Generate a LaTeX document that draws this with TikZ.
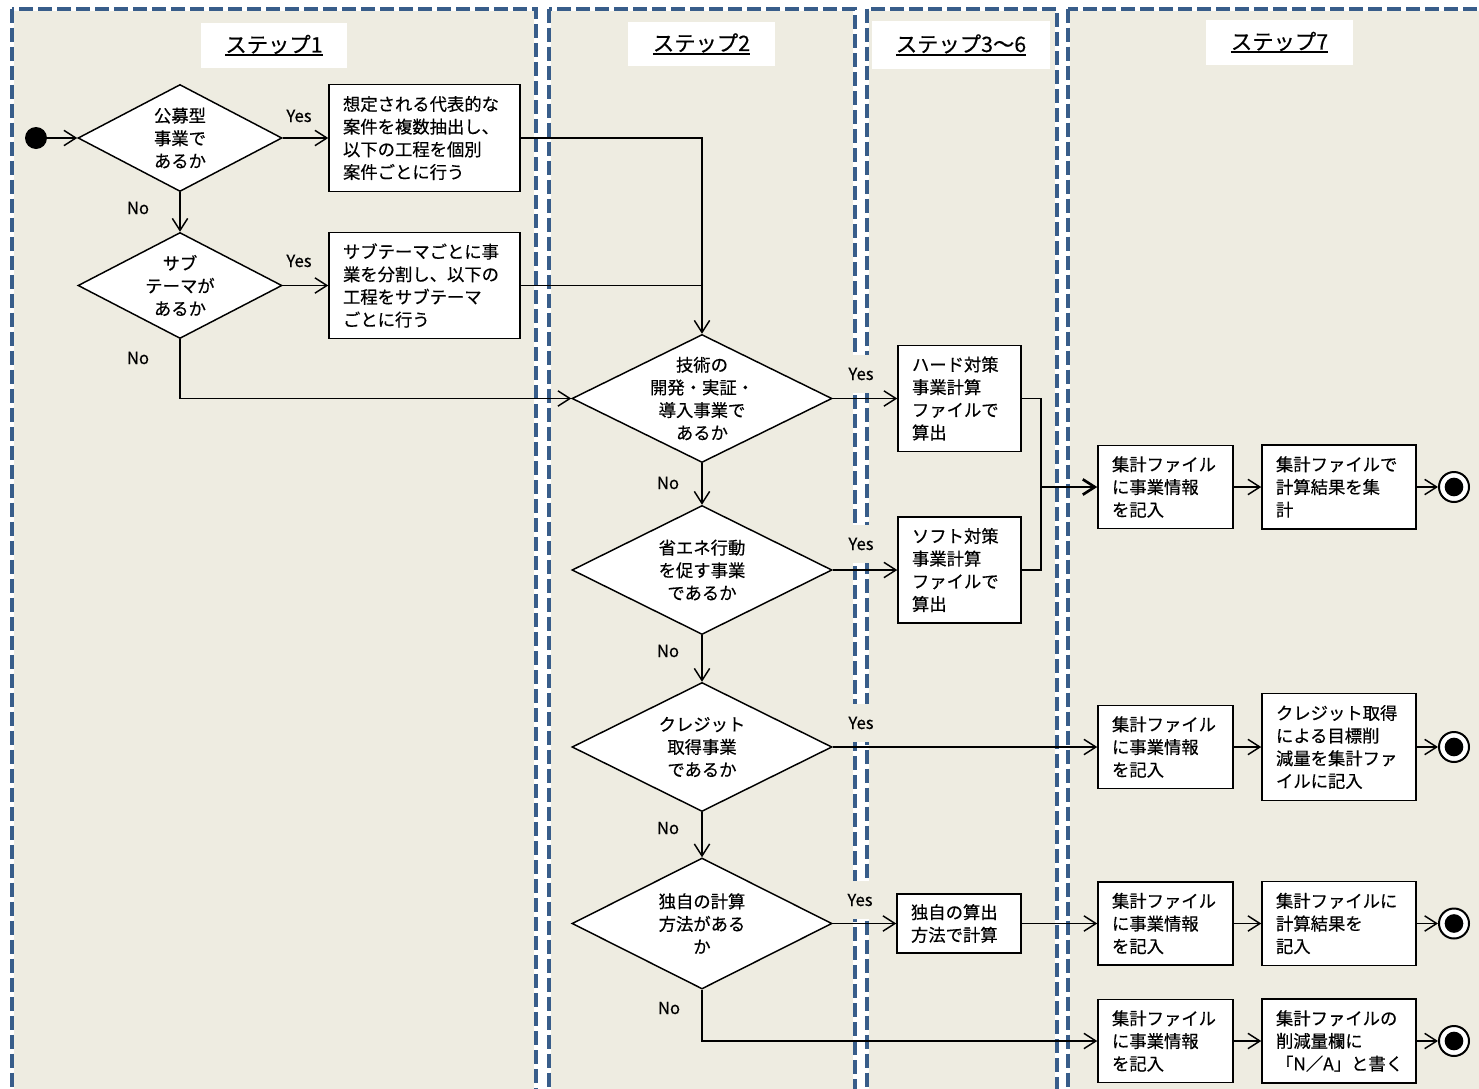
\documentclass[tikz,border=0pt]{standalone}
\usepackage{fontspec}
\setmainfont{Noto Sans CJK JP}[FakeBold=0.4]
\usetikzlibrary{arrows.meta,shapes.geometric}
\definecolor{lanebg}{RGB}{238,236,225}
\definecolor{laneblue}{RGB}{56,93,138}
\newcommand\hdrul[1]{\setbox0\hbox{#1}\rlap{\copy0}\rule[-2.8pt]{\wd0}{1.3pt}}
\begin{document}
\begin{tikzpicture}[x=0.75pt,y=-0.75pt,
  >={Straight Barb[length=9pt,width=11.5pt]},
  conn/.style={draw=black,line width=1.1pt},
  arr/.style={conn,->},
  laneedge/.style={draw=white,line width=3pt},
  lanedash/.style={draw=laneblue,line width=3pt,dash pattern=on 10.5pt off 3.75pt},
  hdr/.style={fill=white,inner sep=0pt,font=\fontsize{16}{19}\selectfont},
  box/.style={draw=black,fill=white,line width=1.1pt,align=left,inner xsep=10.5pt,inner ysep=0pt,font=\fontsize{13}{17}\selectfont},
  dia/.style={diamond,draw=black,fill=white,line width=1.1pt,inner sep=0pt},
  dtext/.style={align=center,inner sep=0pt,font=\fontsize{13}{17}\selectfont},
  lbl/.style={inner sep=1pt,font=\fontsize{12.5}{15}\selectfont},
  yescov/.style={lbl,fill=lanebg,minimum height=28.5pt,minimum width=27pt},
  startc/.style={circle,fill=black,minimum size=16.5pt,inner sep=0pt},
  endc/.style={circle,draw=black,fill=white,line width=1.5pt,minimum size=22.5pt,inner sep=0pt,
    path picture={\fill[black] (path picture bounding box.center) circle (7pt);}}
]
\useasboundingbox (0,0) rectangle (1479,1089);
\clip (0,0) rectangle (1479,1089);
\fill[white] (0,0) rectangle (1479,1089);

% lanes
\foreach \xa/\xb in {12/536, 549/855, 867/1057, 1068/1520}{
  \fill[lanebg] (\xa,8.5) rectangle (\xb,1110);
  \draw[laneedge] (\xa,8.5) rectangle (\xb,1110);
  \draw[lanedash] (\xa,8.5) rectangle (\xb,1110);
}

% headers
\node[hdr,minimum width=109.5pt,minimum height=33.75pt] (h1) at (274,45.5) {\hdrul{ステップ1}};
\node[hdr,minimum width=110.25pt,minimum height=33pt] (h2) at (701.5,44) {\hdrul{ステップ2}};
\node[hdr,minimum width=133.5pt,minimum height=36pt] (h3) at (961,45) {\hdrul{ステップ3〜6}};
\node[hdr,minimum width=110.25pt,minimum height=33.75pt] (h4) at (1279.5,42.5) {\hdrul{ステップ7}};

% lane 1
\node[startc] (st) at (36,138) {};
\node[dia,minimum width=153pt,minimum height=80.25pt] (d1) at (180,138) {};
\node[dtext] (d1t) at (d1) {公募型\\事業で\\あるか};
\node[box,text width=122.25pt,minimum height=80.25pt] (b1) at (424.5,138) {想定される代表的な\\案件を複数抽出し、\\以下の工程を個別\\案件ごとに行う};
\node[dia,minimum width=153pt,minimum height=79.5pt] (d2) at (180,285.5) {};
\node[dtext] (d2t) at (d2) {サブ\\テーマが\\あるか};
\node[box,text width=122.25pt,minimum height=79.5pt] (b2) at (424.5,285.5) {サブテーマごとに事\\業を分割し、以下の\\工程をサブテーマ\\ごとに行う};

\node[lbl] (y1) at (299,116) {Yes};
\node[lbl] (y2) at (299,261) {Yes};
\node[lbl] (n1) at (138,208) {No};
\node[lbl] (n2) at (138,358) {No};

% lane 2
\node[dia,minimum width=195pt,minimum height=96pt] (d3) at (702,398.5) {};
\node[dtext] (d3t) at (d3) {技術の\\開発・実証・\\導入事業で\\あるか};
\node[dia,minimum width=195pt,minimum height=96.75pt] (d4) at (702,570) {};
\node[dtext] (d4t) at (d4) {省エネ行動\\を促す事業\\であるか};
\node[dia,minimum width=195pt,minimum height=96.75pt] (d5) at (702,747) {};
\node[dtext] (d5t) at (d5) {クレジット\\取得事業\\であるか};
\node[dia,minimum width=195pt,minimum height=98.25pt] (d6) at (702,923.5) {};
\node[dtext] (d6t) at (d6) {独自の計算\\方法がある\\か};

\node[lbl] (n3) at (668,483) {No};
\node[lbl] (n4) at (668,651) {No};
\node[lbl] (n5) at (668,828) {No};
\node[lbl] (n6) at (669,1008) {No};

\node[yescov] (y3) at (861,374) {Yes};
\node[yescov] (y4) at (861,544) {Yes};
\node[yescov] (y5) at (861,723) {Yes};
\node[yescov] (y6) at (860,900) {Yes};

% lane 3
\node[box,text width=71.25pt,minimum height=79.5pt] (hard) at (959.5,398.5) {ハード対策\\事業計算\\ファイルで\\算出};
\node[box,text width=71.25pt,minimum height=79.5pt] (soft) at (959.5,570) {ソフト対策\\事業計算\\ファイルで\\算出};
\node[box,text width=72pt,minimum height=44.25pt] (dok) at (959,923.5) {独自の算出\\方法で計算};
\coordinate (jn) at (1041,487);

% lane 4
\node[box,text width=80.25pt,minimum height=62.25pt] (s1) at (1165.5,487) {集計ファイル\\に事業情報\\を記入};
\node[box,text width=94.5pt,minimum height=63pt] (r1) at (1339,487) {集計ファイルで\\計算結果を集\\計};
\node[endc] (e1) at (1454,487) {};
\node[box,text width=80.25pt,minimum height=62.25pt] (s2) at (1165.5,747) {集計ファイル\\に事業情報\\を記入};
\node[box,text width=94.5pt,minimum height=80.25pt] (r2) at (1339,747) {クレジット取得\\による目標削\\減量を集計ファ\\イルに記入};
\node[endc] (e2) at (1454,747) {};
\node[box,text width=80.25pt,minimum height=62.25pt] (s3) at (1165.5,923.5) {集計ファイル\\に事業情報\\を記入};
\node[box,text width=94.5pt,minimum height=63pt] (r3) at (1339,923.5) {集計ファイルに\\計算結果を\\記入};
\node[endc] (e3) at (1454,923.5) {};
\node[box,text width=80.25pt,minimum height=62.25pt] (s4) at (1165.5,1041) {集計ファイル\\に事業情報\\を記入};
\node[box,text width=94.5pt,minimum height=63pt] (r4) at (1339,1041) {集計ファイルの\\削減量欄に\\「N／A」と書く};
\node[endc] (e4) at (1454,1041) {};

% connectors
\draw[arr] (st) -- (d1.west);
\draw[arr] (d1.east) -- (b1.west);
\draw[arr] (d1.south) -- (d2.north);
\draw[arr] (d2.east) -- (b2.west);
\draw[arr] (d2.south) |- (d3.west);
\draw[arr] (b1.east) -| (d3.north);
\draw[conn] (b2.east) -- (b2.east -| d3.north);
\draw[arr] (d3.east) -- (hard.west);
\draw[arr] (d3.south) -- (d4.north);
\draw[arr] (d4.east) -- (soft.west);
\draw[arr] (d4.south) -- (d5.north);
\draw[arr] (d5.east) -- (s2.west);
\draw[arr] (d5.south) -- (d6.north);
\draw[arr] (d6.east) -- (dok.west);
\draw[arr] (dok.east) -- (s3.west);
\draw[arr] (d6.south) |- (s4.west);
\draw[conn] (hard.east) -| (jn) |- (soft.east);
\draw[conn,line width=2pt,->] (jn) -- (s1.west);
\draw[arr] (s1.east) -- (r1.west);
\draw[arr] (r1.east) -- (e1.west);
\draw[arr] (s2.east) -- (r2.west);
\draw[arr] (r2.east) -- (e2.west);
\draw[arr] (s3.east) -- (r3.west);
\draw[arr] (r3.east) -- (e3.west);
\draw[arr] (s4.east) -- (r4.west);
\draw[arr] (r4.east) -- (e4.west);
\end{tikzpicture}
\end{document}
